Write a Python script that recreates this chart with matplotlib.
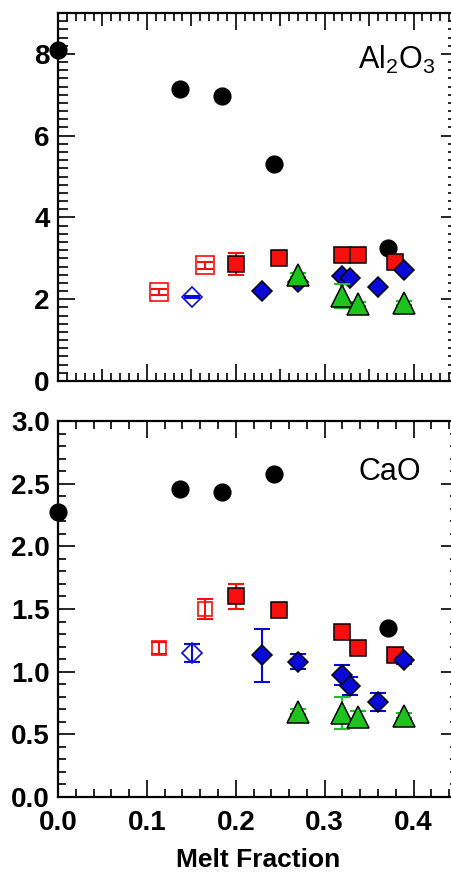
import numpy as np
import matplotlib
matplotlib.use("Agg")
import matplotlib.pyplot as plt
from matplotlib.ticker import MultipleLocator, FormatStrFormatter

plt.rcParams['font.family'] = ['Liberation Sans', 'DejaVu Sans']
plt.rcParams['mathtext.default'] = 'regular'

# melt fraction of each experiment series
x_bulk = [0.0, 0.137, 0.185, 0.243, 0.371]
x_red = [0.200, 0.249, 0.320, 0.338, 0.379]
x_red_open = [0.114, 0.165]
x_blue_open = [0.151]
x_blue = [0.230, 0.270, 0.320, 0.328, 0.360, 0.389]
x_green = [0.270, 0.319, 0.338, 0.389]

# Al2O3 (top panel)
al_bulk = [8.10, 7.15, 6.98, 5.31, 3.25]
al_red = [2.86, 3.02, 3.07, 3.07, 2.91]
al_red_err = [0.27, 0.05, 0.05, 0.05, 0.05]
al_red_open = [2.18, 2.83]
al_red_open_err = [0.08, 0.08]
al_blue_open = [2.05]
al_blue_open_err = [0.02]
al_blue = [2.20, 2.42, 2.56, 2.52, 2.30, 2.71]
al_blue_err = [0.05, 0.05, 0.05, 0.05, 0.05, 0.05]
al_green = [2.59, 2.08, 1.88, 1.90]
al_green_err = [0.05, 0.30, 0.05, 0.05]

# CaO (bottom panel)
ca_bulk = [2.27, 2.46, 2.43, 2.58, 1.35]
ca_red = [1.60, 1.49, 1.32, 1.19, 1.13]
ca_red_err = [0.10, 0.03, 0.03, 0.03, 0.03]
ca_red_open = [1.19, 1.50]
ca_red_open_err = [0.05, 0.08]
ca_blue_open = [1.15]
ca_blue_open_err = [0.07]
ca_blue = [1.13, 1.08, 0.97, 0.885, 0.76, 1.09]
ca_blue_err = [0.21, 0.06, 0.08, 0.07, 0.07, 0.03]
ca_green = [0.68, 0.67, 0.64, 0.65]
ca_green_err = [0.02, 0.13, 0.05, 0.02]

RED = '#f50f0f'
BLUE = '#0a0ad8'
GREEN = '#1ec41e'


def series(ax, x, y, err, marker, color, ms, z, filled=True):
    if err is not None:
        ax.errorbar(x, y, yerr=err, fmt='none', ecolor=color, elinewidth=1.5,
                    capsize=5.5, capthick=1.5, zorder=z - 0.5)
    if filled:
        ax.plot(x, y, marker, ls='none', ms=ms, mfc=color, mec='black',
                mew=1.1, zorder=z, clip_on=False)
    else:
        ax.plot(x, y, marker, ls='none', ms=ms, mfc='none', mec=color,
                mew=1.2, zorder=z, clip_on=False)


def draw_panel(ax, bulk, red, red_err, red_open, red_open_err, blue_open,
               blue_open_err, blue, blue_err, green, green_err, open_sq_ms):
    series(ax, x_bulk, bulk, None, 'o', 'black', 12, 3)
    series(ax, x_red, red, red_err, 's', RED, 11.5, 4)
    series(ax, x_red_open, red_open, red_open_err, 's', RED, open_sq_ms, 4,
           filled=False)
    series(ax, x_blue_open, blue_open, blue_open_err, 'D', BLUE, 10, 5,
           filled=False)
    series(ax, x_blue, blue, blue_err, 'D', BLUE, 10.5, 5)
    series(ax, x_green, green, green_err, '^', GREEN, 16, 6)

    ax.set_xlim(0, 0.45)
    for s in ax.spines.values():
        s.set_linewidth(1.6)
    ax.tick_params(which='both', direction='in', top=True, right=True,
                   width=1.2, labelsize=20)
    ax.tick_params(which='major', length=12, pad=6)
    ax.tick_params(which='minor', length=6)


W, H = 451, 873
fig = plt.figure(figsize=(W / 100, H / 100), dpi=100)

# top panel: Al2O3
ax1 = fig.add_axes([58 / W, (H - 381) / H, 400 / W, 368 / H])
draw_panel(ax1, al_bulk, al_red, al_red_err, al_red_open, al_red_open_err,
           al_blue_open, al_blue_open_err, al_blue, al_blue_err,
           al_green, al_green_err, 12.5)
ax1.set_ylim(0, 9)
ax1.xaxis.set_major_locator(MultipleLocator(0.05))
ax1.xaxis.set_minor_locator(MultipleLocator(0.01))
ax1.yaxis.set_major_locator(MultipleLocator(2))
ax1.yaxis.set_minor_locator(MultipleLocator(0.2))
ax1.yaxis.set_major_formatter(FormatStrFormatter('%d'))
ax1.tick_params(axis='x', labelbottom=False)
ax1.tick_params(axis='y', which='minor', length=7)
for lab in ax1.get_yticklabels():
    lab.set_fontweight('bold')
# half-way ticks at 0.05, 0.15, ... are shorter than the 0.1 ones
for t, v in zip(ax1.xaxis.get_major_ticks(), ax1.get_xticks()):
    if round(v / 0.05) % 2 == 1:
        t.tick1line.set_markersize(9)
        t.tick2line.set_markersize(9)
ax1.text(0.424, 7.63, 'Al$_2$O$_3$', fontsize=22, ha='right', va='baseline')

# bottom panel: CaO
ax2 = fig.add_axes([58 / W, (H - 797) / H, 400 / W, 376 / H])
draw_panel(ax2, ca_bulk, ca_red, ca_red_err, ca_red_open, ca_red_open_err,
           ca_blue_open, ca_blue_open_err, ca_blue, ca_blue_err,
           ca_green, ca_green_err, 9.5)
ax2.set_ylim(0, 3)
ax2.xaxis.set_major_locator(MultipleLocator(0.1))
ax2.xaxis.set_minor_locator(MultipleLocator(0.02))
ax2.yaxis.set_major_locator(MultipleLocator(0.5))
ax2.yaxis.set_minor_locator(MultipleLocator(0.1))
ax2.xaxis.set_major_formatter(FormatStrFormatter('%.1f'))
ax2.yaxis.set_major_formatter(FormatStrFormatter('%.1f'))
ax2.tick_params(axis='x', which='major', pad=9)
for lab in ax2.get_xticklabels() + ax2.get_yticklabels():
    lab.set_fontweight('bold')
ax2.set_xlabel('Melt Fraction', fontsize=19, fontweight='bold', labelpad=9)
ax2.text(0.409, 2.53, 'CaO', fontsize=22, ha='right', va='baseline')

fig.savefig('out.png', dpi=100)
